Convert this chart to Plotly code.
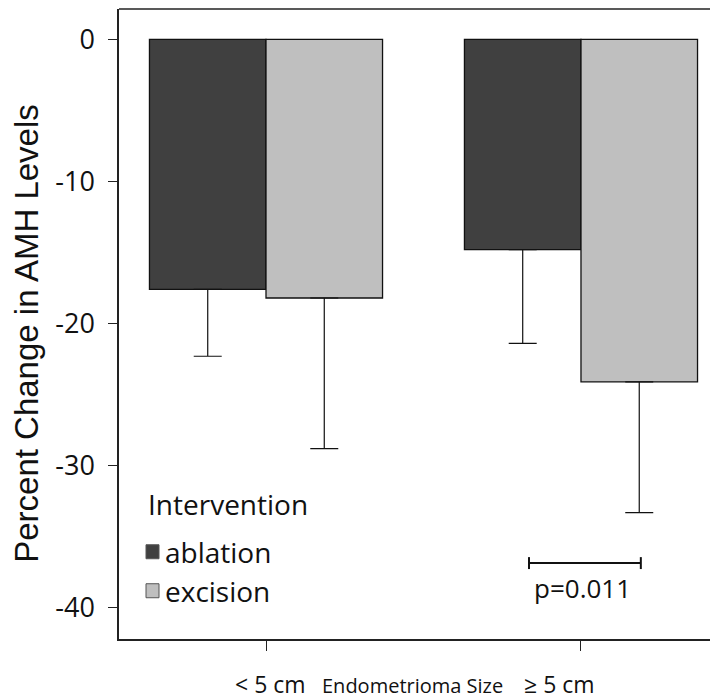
import plotly.graph_objects as go

# ---- data ----
categories = ["< 5 cm", "≥ 5 cm"]
series_names = ["ablation", "excision"]
ablation_mean = [-17.6, -14.8]
excision_mean = [-18.2, -24.1]
ablation_err = [4.7, 6.6]
excision_err = [10.6, 9.2]
y_ticks = [0, -10, -20, -30, -40]
p_label = "p=0.011"
legend_title = "Intervention"
x_title = "Endometrioma Size"
y_title = "Percent Change in AMH Levels"

colors = {"ablation": "#404040", "excision": "#bfbfbf"}
TICK_FONT = "Open Sans, Noto Sans, sans-serif"

fig = go.Figure()
for name, vals, errs in [("ablation", ablation_mean, ablation_err),
                         ("excision", excision_mean, excision_err)]:
    fig.add_trace(go.Bar(
        x=categories, y=vals, name=name,
        marker=dict(color=colors[name], line=dict(color="#111111", width=1.3)),
        error_y=dict(type="data", symmetric=False, array=[0] * len(errs),
                     arrayminus=errs, color="#111111", thickness=1.2, width=14),
        showlegend=False,
    ))

# the page body adds an 8px offset, so the figure is 8px smaller than the window
fig.update_layout(
    width=710, height=691,
    margin=dict(l=111, r=0, t=1, b=60),
    paper_bgcolor="white", plot_bgcolor="white",
    barmode="group", bargap=0.26, bargroupgap=0,
    xaxis=dict(range=[-0.4667, 1.435], tickvals=categories, showticklabels=False,
               ticks="outside", ticklen=10, tickwidth=1.3, tickcolor="#222",
               showline=True, linecolor="#222", linewidth=1.5,
               showgrid=False, zeroline=False, automargin=False),
    yaxis=dict(range=[-42.19, 2.13], tickvals=y_ticks,
               ticktext=[str(v) for v in y_ticks],
               ticks="outside", ticklen=9, tickwidth=1.3, tickcolor="#222",
               ticklabelstandoff=8,
               tickfont=dict(family=TICK_FONT, size=27, color="#111"),
               showline=True, linecolor="#222", linewidth=1.5,
               showgrid=False, zeroline=False, automargin=False),
)

# top frame line (runs off to the right edge)
fig.add_shape(type="line", xref="paper", yref="paper", x0=0, x1=1, y0=1, y1=1,
              line=dict(color="#222", width=1.5))

# axis titles / category labels
fig.add_annotation(text=y_title, xref="paper", yref="paper", x=-0.1536, y=0.486,
                   textangle=-90, showarrow=False, xanchor="center", yanchor="middle",
                   font=dict(family="Liberation Sans, Arial, sans-serif", size=33, color="#111"))
fig.add_annotation(text=categories[0], xref="paper", yref="paper", x=0.2521, y=-0.0717,
                   showarrow=False, xanchor="center", yanchor="middle",
                   font=dict(family=TICK_FONT, size=23, color="#111"))
fig.add_annotation(text=x_title, xref="paper", yref="paper", x=0.4908, y=-0.0736,
                   showarrow=False, xanchor="center", yanchor="middle",
                   font=dict(family=TICK_FONT, size=20, color="#111"))
fig.add_annotation(text=categories[1], xref="paper", yref="paper", x=0.7362, y=-0.0717,
                   showarrow=False, xanchor="center", yanchor="middle",
                   font=dict(family=TICK_FONT, size=23, color="#111"))

# custom legend
fig.add_annotation(text=legend_title, xref="paper", yref="paper", x=0.0451, y=0.2139,
                   showarrow=False, xanchor="left", yanchor="middle",
                   font=dict(family=TICK_FONT, size=28, color="#111"))
legend_rows = [(series_names[0], 0.1274, 0.1496, 0.1385),
               (series_names[1], 0.0655, 0.0877, 0.0766)]
for name, y0, y1, yt in legend_rows:
    fig.add_shape(type="rect", xref="paper", yref="paper", x0=0.0451, x1=0.0668,
                  y0=y0, y1=y1, fillcolor=colors[name], line=dict(color="#555", width=1))
    fig.add_annotation(text=name, xref="paper", yref="paper", x=0.0735, y=yt,
                       showarrow=False, xanchor="left", yanchor="middle",
                       font=dict(family=TICK_FONT, size=28, color="#111"))

# significance bracket
yb = -36.85
fig.add_shape(type="line", x0=0.835, x1=1.19, y0=yb, y1=yb, line=dict(color="#111", width=2))
fig.add_shape(type="line", x0=0.835, x1=0.835, y0=yb - 0.42, y1=yb + 0.42, line=dict(color="#111", width=2))
fig.add_shape(type="line", x0=1.19, x1=1.19, y0=yb - 0.42, y1=yb + 0.42, line=dict(color="#111", width=2))
fig.add_annotation(text=p_label, x=1.006, y=-38.6, showarrow=False,
                   xanchor="center", yanchor="middle",
                   font=dict(family=TICK_FONT, size=26, color="#111"))

fig.write_html("out.html")
